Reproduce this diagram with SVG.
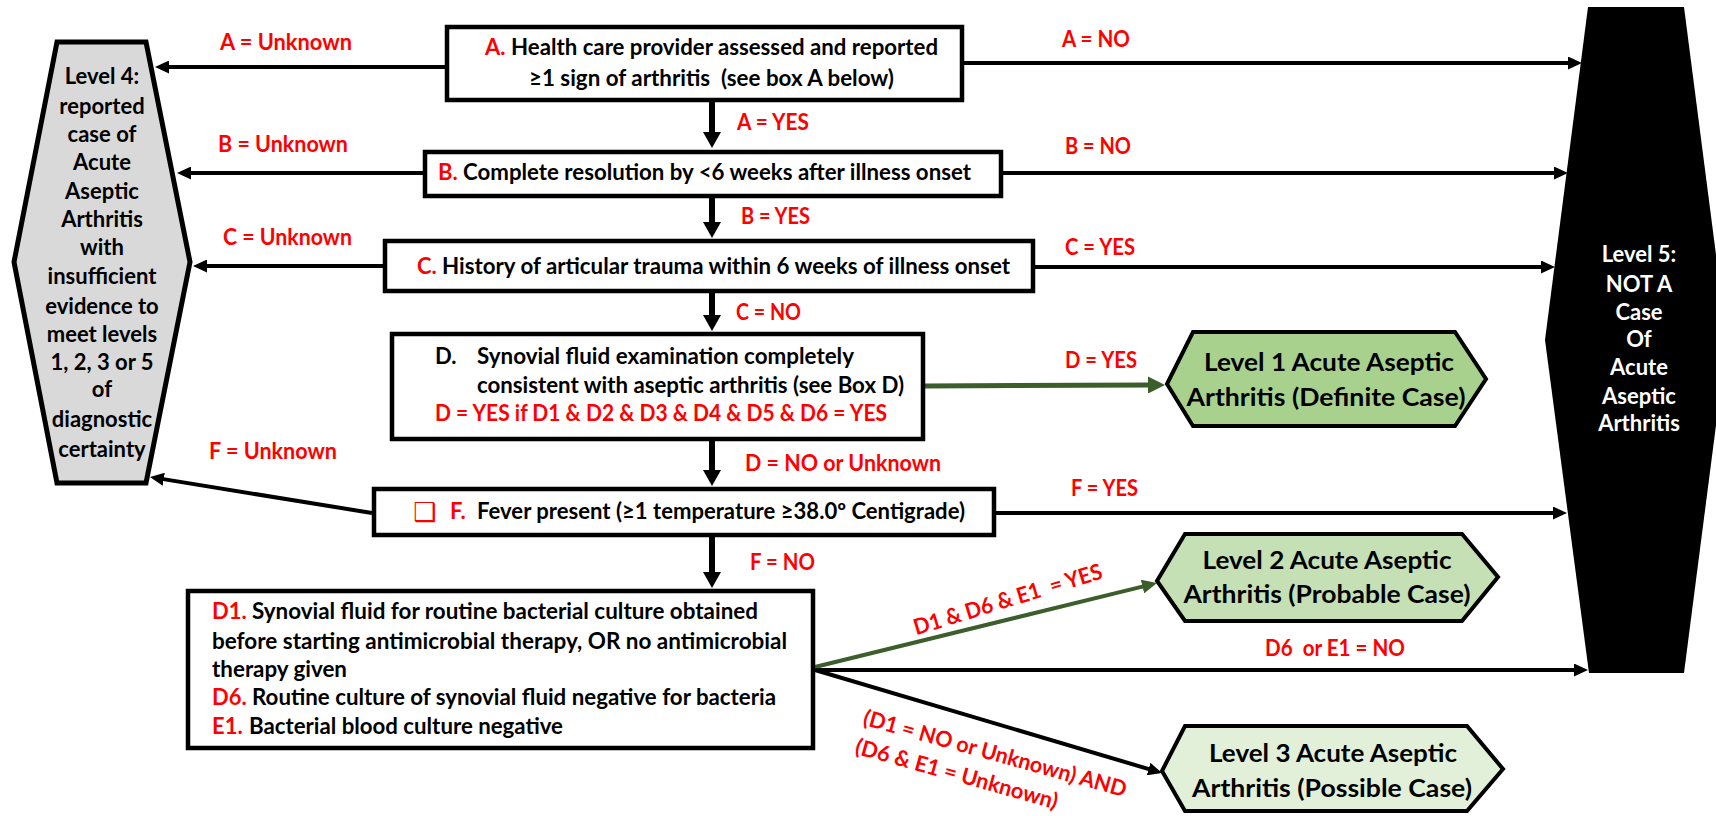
<svg xmlns="http://www.w3.org/2000/svg" width="1716" height="816" viewBox="0 0 1716 816">
<style>
.t{font-family:Lato,"Liberation Sans",sans-serif;font-weight:700;font-size:22px}
.h{font-family:Lato,"Liberation Sans",sans-serif;font-weight:700;font-size:25px}
.m{text-anchor:middle}
.r{fill:#ff0000}
.k{fill:#000}
.w{fill:#fff}
.box{fill:#fff;stroke:#000;stroke-width:4.5}
.hx{stroke:#000;stroke-width:4;stroke-linejoin:miter}
.c{stroke:#000;stroke-width:4;fill:none}
.cv{stroke:#000;stroke-width:6;fill:none}
.cg{stroke:#3b5e2b;stroke-width:5;fill:none}
.cg2{stroke:#3b5e2b;stroke-width:4;fill:none}
</style>
<defs>
<marker id="ah" markerUnits="userSpaceOnUse" markerWidth="14" markerHeight="13" refX="2" refY="6.5" orient="auto"><path d="M0,0 L14,6.5 L0,13 z" fill="#000"/></marker>
<marker id="ahv" markerUnits="userSpaceOnUse" markerWidth="16" markerHeight="18" refX="2" refY="9" orient="auto"><path d="M0,0 L16,9 L0,18 z" fill="#000"/></marker>
<marker id="ahg" markerUnits="userSpaceOnUse" markerWidth="17" markerHeight="17" refX="2" refY="8.5" orient="auto"><path d="M0,0 L17,8.5 L0,17 z" fill="#3b5e2b"/></marker>
<marker id="ahg2" markerUnits="userSpaceOnUse" markerWidth="15" markerHeight="14" refX="2" refY="7" orient="auto"><path d="M0,0 L15,7 L0,14 z" fill="#3b5e2b"/></marker>
</defs>
<rect width="1716" height="816" fill="#fff"/>

<g id="connectors">
<line class="c" x1="445" y1="67" x2="167" y2="67" marker-end="url(#ah)"/>
<line class="c" x1="423" y1="173" x2="189" y2="173" marker-end="url(#ah)"/>
<line class="c" x1="383" y1="266" x2="205" y2="266" marker-end="url(#ah)"/>
<line class="c" x1="372" y1="513" x2="161.8" y2="478.9" marker-end="url(#ah)"/>
<line class="c" x1="964" y1="63" x2="1570" y2="63" marker-end="url(#ah)"/>
<line class="c" x1="1003" y1="173" x2="1556" y2="173" marker-end="url(#ah)"/>
<line class="c" x1="1035" y1="267" x2="1543" y2="267" marker-end="url(#ah)"/>
<line class="c" x1="996" y1="513" x2="1555" y2="513" marker-end="url(#ah)"/>
<line class="c" x1="815" y1="670" x2="1576" y2="670" marker-end="url(#ah)"/>
<line class="cv" x1="712" y1="102" x2="712" y2="134" marker-end="url(#ahv)"/>
<line class="cv" x1="712" y1="198" x2="712" y2="224" marker-end="url(#ahv)"/>
<line class="cv" x1="712" y1="293" x2="712" y2="317" marker-end="url(#ahv)"/>
<line class="cv" x1="712" y1="441" x2="712" y2="472" marker-end="url(#ahv)"/>
<line class="cv" x1="712" y1="537" x2="712" y2="574" marker-end="url(#ahv)"/>
<line class="cg" x1="925" y1="386" x2="1150" y2="385" marker-end="url(#ahg)"/>
<line class="cg2" x1="815" y1="667" x2="1144.4" y2="586.1" marker-end="url(#ahg2)"/>
<line class="c" x1="815" y1="670" x2="1150.5" y2="769.6" marker-end="url(#ah)"/>

<text class="t r" x="220" y="50" textLength="132" lengthAdjust="spacingAndGlyphs">A = Unknown</text>
<text class="t r" x="218" y="152" textLength="130" lengthAdjust="spacingAndGlyphs">B = Unknown</text>
<text class="t r" x="223" y="245" textLength="129" lengthAdjust="spacingAndGlyphs">C = Unknown</text>
<text class="t r" x="209" y="459" textLength="128" lengthAdjust="spacingAndGlyphs">F = Unknown</text>
<text class="t r" x="1062" y="47" textLength="68" lengthAdjust="spacingAndGlyphs">A = NO</text>
<text class="t r" x="1065" y="154" textLength="66" lengthAdjust="spacingAndGlyphs">B = NO</text>
<text class="t r" x="1065" y="255" textLength="70" lengthAdjust="spacingAndGlyphs">C = YES</text>
<text class="t r" x="1065" y="368" textLength="72" lengthAdjust="spacingAndGlyphs">D = YES</text>
<text class="t r" x="1071" y="496" textLength="67" lengthAdjust="spacingAndGlyphs">F = YES</text>
<text class="t r" x="737" y="130" textLength="72" lengthAdjust="spacingAndGlyphs">A = YES</text>
<text class="t r" x="741" y="224" textLength="69" lengthAdjust="spacingAndGlyphs">B = YES</text>
<text class="t r" x="736" y="320" textLength="65" lengthAdjust="spacingAndGlyphs">C = NO</text>
<text class="t r" x="745" y="471" textLength="196" lengthAdjust="spacingAndGlyphs">D = NO or Unknown</text>
<text class="t r" x="750" y="570" textLength="65" lengthAdjust="spacingAndGlyphs">F = NO</text>
<text class="t r" x="1265" y="656" textLength="140" lengthAdjust="spacingAndGlyphs" xml:space="preserve">D6  or E1 = NO</text>
<text class="t r m" transform="translate(1008,600) rotate(-17)" x="0" y="7" textLength="196" lengthAdjust="spacingAndGlyphs" xml:space="preserve">D1 &amp; D6 &amp; E1  = YES</text>
<g transform="translate(995,754) rotate(15.5)">
<text class="t r" x="-136" y="7" textLength="272" lengthAdjust="spacingAndGlyphs">(D1 = NO or Unknown) AND</text>
<text class="t r" x="-136" y="37" textLength="209" lengthAdjust="spacingAndGlyphs">(D6 &amp; E1 = Unknown)</text>
</g>
</g>

<g id="level4">
<polygon points="57,42 146,42 190,262 146,483 57,483 14,262" fill="#d9d9d9" stroke="#000" stroke-width="5"/>
<text class="t k m" x="102" y="84">Level 4:</text>
<text class="t k m" x="102" y="114">reported</text>
<text class="t k m" x="102" y="142">case of</text>
<text class="t k m" x="102" y="170">Acute</text>
<text class="t k m" x="102" y="199">Aseptic</text>
<text class="t k m" x="102" y="227">Arthritis</text>
<text class="t k m" x="102" y="255">with</text>
<text class="t k m" x="102" y="284">insufficient</text>
<text class="t k m" x="102" y="314">evidence to</text>
<text class="t k m" x="102" y="342">meet levels</text>
<text class="t k m" x="102" y="370">1, 2, 3 or 5</text>
<text class="t k m" x="102" y="397">of</text>
<text class="t k m" x="102" y="427">diagnostic</text>
<text class="t k m" x="102" y="457">certainty</text>
</g>

<g id="level5">
<polygon points="1588,7 1684,7 1727,340 1684,673 1589,673 1545,340" fill="#000"/>
<text class="t w m" x="1639" y="262">Level 5:</text>
<text class="t w m" x="1639" y="292">NOT A</text>
<text class="t w m" x="1639" y="320">Case</text>
<text class="t w m" x="1639" y="347">Of</text>
<text class="t w m" x="1639" y="375">Acute</text>
<text class="t w m" x="1639" y="404">Aseptic</text>
<text class="t w m" x="1639" y="431">Arthritis</text>
</g>

<g id="boxA">
<rect class="box" x="447" y="27" width="515" height="73"/>
<text class="t r" x="485" y="55">A.</text>
<text class="t k" x="511" y="55" textLength="427" lengthAdjust="spacingAndGlyphs">Health care provider assessed and reported</text>
<text class="t k" x="529" y="86" textLength="365" lengthAdjust="spacingAndGlyphs" xml:space="preserve">≥1 sign of arthritis  (see box A below)</text>
</g>

<g id="boxB">
<rect class="box" x="425" y="152" width="576" height="44"/>
<text class="t r" x="438" y="180">B.</text>
<text class="t k" x="463" y="180" textLength="508" lengthAdjust="spacingAndGlyphs">Complete resolution by &lt;6 weeks after illness onset</text>
</g>

<g id="boxC">
<rect class="box" x="385" y="241" width="648" height="50"/>
<text class="t r" x="417" y="274">C.</text>
<text class="t k" x="442" y="274" textLength="568" lengthAdjust="spacingAndGlyphs">History of articular trauma within 6 weeks of illness onset</text>
</g>

<g id="boxD">
<rect class="box" x="392" y="334" width="531" height="105"/>
<text class="t k" x="435" y="364">D.</text>
<text class="t k" x="477" y="364" textLength="377" lengthAdjust="spacingAndGlyphs">Synovial fluid examination completely</text>
<text class="t k" x="477" y="393" textLength="427" lengthAdjust="spacingAndGlyphs">consistent with aseptic arthritis (see Box D)</text>
<text class="t r" x="435" y="421" textLength="452" lengthAdjust="spacingAndGlyphs">D = YES if D1 &amp; D2 &amp; D3 &amp; D4 &amp; D5 &amp; D6 = YES</text>
</g>

<g id="boxF">
<rect class="box" x="374" y="489" width="620" height="46"/>
<text x="413" y="521" fill="#ff0000" style="font-family:'DejaVu Sans',sans-serif;font-size:26px">❑</text>
<text class="t r" x="450" y="519">F.</text>
<text class="t k" x="477" y="519" textLength="488" lengthAdjust="spacingAndGlyphs">Fever present (≥1 temperature ≥38.0º Centigrade)</text>
</g>

<g id="boxD1">
<rect class="box" x="188" y="591" width="625" height="157"/>
<text class="t r" x="212" y="619">D1.</text>
<text class="t k" x="252" y="619" textLength="506" lengthAdjust="spacingAndGlyphs">Synovial fluid for routine bacterial culture obtained</text>
<text class="t k" x="212" y="649" textLength="575" lengthAdjust="spacingAndGlyphs">before starting antimicrobial therapy, OR no antimicrobial</text>
<text class="t k" x="212" y="677" textLength="135" lengthAdjust="spacingAndGlyphs">therapy given</text>
<text class="t r" x="212" y="705">D6.</text>
<text class="t k" x="252" y="705" textLength="524" lengthAdjust="spacingAndGlyphs">Routine culture of synovial fluid negative for bacteria</text>
<text class="t r" x="212" y="734">E1.</text>
<text class="t k" x="249" y="734" textLength="314" lengthAdjust="spacingAndGlyphs">Bacterial blood culture negative</text>
</g>

<g id="level1">
<polygon class="hx" points="1193,332 1455,332 1486,379 1455,426 1193,426 1167,384" fill="#a9d18e"/>
<text class="h k m" x="1329" y="371" textLength="250" lengthAdjust="spacingAndGlyphs">Level 1 Acute Aseptic</text>
<text class="h k m" x="1326" y="406" textLength="279" lengthAdjust="spacingAndGlyphs">Arthritis (Definite Case)</text>
</g>

<g id="level2">
<polygon class="hx" points="1185,534 1462,534 1498,577 1462,621 1185,621 1157,581" fill="#c5e0b4"/>
<text class="h k m" x="1327" y="569" textLength="249" lengthAdjust="spacingAndGlyphs">Level 2 Acute Aseptic</text>
<text class="h k m" x="1327" y="603" textLength="287" lengthAdjust="spacingAndGlyphs">Arthritis (Probable Case)</text>
</g>

<g id="level3">
<polygon class="hx" points="1185,726 1467,726 1503,769 1467,811 1185,811 1162,771" fill="#e2f0d9"/>
<text class="h k m" x="1333" y="762" textLength="248" lengthAdjust="spacingAndGlyphs">Level 3 Acute Aseptic</text>
<text class="h k m" x="1332" y="797" textLength="280" lengthAdjust="spacingAndGlyphs">Arthritis (Possible Case)</text>
</g>
</svg>
